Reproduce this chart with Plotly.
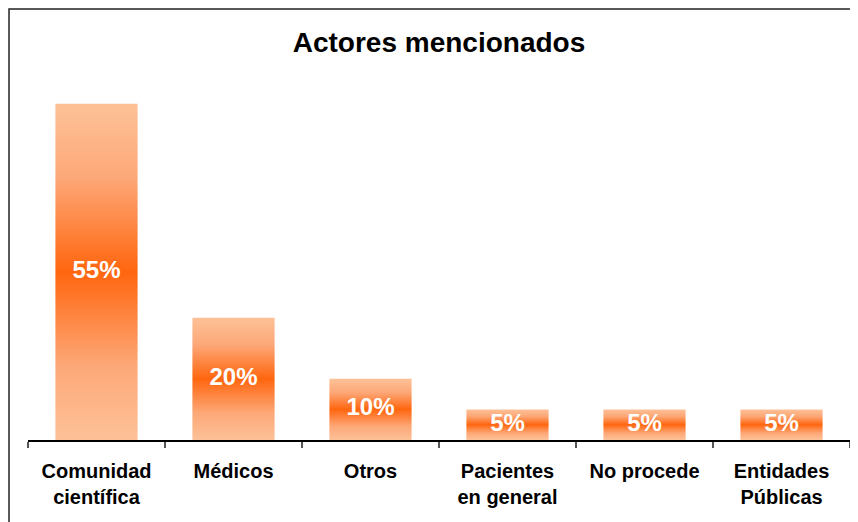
import plotly.graph_objects as go

categories = ["Comunidad<br>científica", "Médicos", "Otros", "Pacientes<br>en general", "No procede", "Entidades<br>Públicas"]
values = [55, 20, 10, 5, 5, 5]
title_text = "Actores mencionados"

light = "#FDC197"
mid = "#FDA878"
dark = "#FF660F"
gradient = [[0, light], [0.22, mid], [0.5, dark], [0.78, mid], [1, light]]
half_width = 0.3

fig = go.Figure()
for i, v in enumerate(values):
    fig.add_trace(go.Scatter(
        x=[i - half_width, i + half_width, i + half_width, i - half_width, i - half_width],
        y=[0, 0, v, v, 0],
        mode="lines",
        line=dict(width=0),
        fill="toself",
        fillgradient=dict(type="vertical", colorscale=gradient),
        hoverinfo="skip",
        showlegend=False,
    ))

fig.add_trace(go.Scatter(
    x=list(range(len(values))),
    y=[v / 2 for v in values],
    mode="text",
    text=[f"{v}%" for v in values],
    textfont=dict(family="Liberation Sans, Arial, sans-serif", size=24, color="white", weight="bold"),
    textposition="middle center",
    showlegend=False,
    hoverinfo="skip",
))

fig.update_layout(
    width=858, height=522,
    margin=dict(l=20, r=16, t=92, b=90),
    paper_bgcolor="white", plot_bgcolor="white",
    title=dict(text=f"<b>{title_text}</b>", x=0.5, xanchor="center", xref="paper",
               y=1 - 34 / 522, yanchor="middle",
               font=dict(family="Liberation Sans, Arial, sans-serif", size=28, color="black")),
    xaxis=dict(
        range=[-0.5, len(values) - 0.5],
        tickmode="array",
        tickvals=list(range(len(values))),
        ticktext=[f"<b>{c}</b>" for c in categories],
        ticks="",
        showgrid=False, zeroline=False,
        showline=True, linecolor="black", linewidth=1.5,
        tickfont=dict(family="Liberation Sans, Arial, sans-serif", size=20, color="black"),
        ticklabelstandoff=12,
        minor=dict(tickmode="array", tickvals=[i - 0.5 for i in range(len(values) + 1)],
                   ticks="outside", ticklen=6, tickcolor="#555", tickwidth=1.5, showgrid=False),
        fixedrange=True,
    ),
    yaxis=dict(range=[0, 55.6], visible=False, fixedrange=True),
    shapes=[dict(type="rect", xref="paper", yref="paper",
                 x0=-0.0231, x1=1.2, y0=-0.5, y1=1.2676,
                 line=dict(color="#222", width=1.5), fillcolor="rgba(0,0,0,0)", layer="below")],
)

fig.write_html("out.html")
